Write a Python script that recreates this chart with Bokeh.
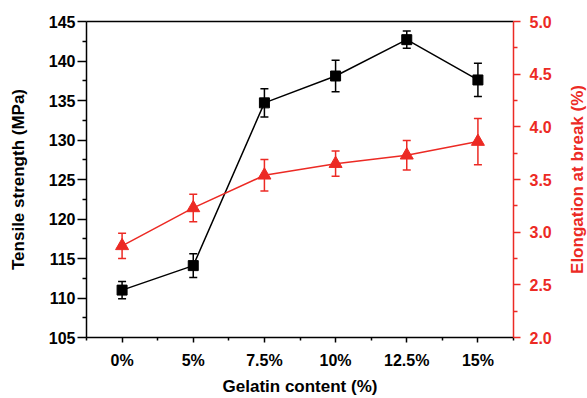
import math
from bokeh.plotting import figure
from bokeh.layouts import row
from bokeh.models import (ColumnDataSource, Range1d, LinearAxis, FixedTicker,
                          Whisker, TeeHead, PrintfTickFormatter)
from bokeh.core.properties import value
from bokeh.embed import file_html
from bokeh.resources import INLINE

categories = ["0%", "5%", "7.5%", "10%", "12.5%", "15%"]
tensile = [111.0, 114.1, 134.7, 138.1, 142.7, 137.6]
tensile_err = [1.1, 1.5, 1.8, 2.0, 1.1, 2.1]
elong = [2.87, 3.23, 3.54, 3.65, 3.73, 3.86]
elong_err = [0.12, 0.13, 0.15, 0.12, 0.14, 0.22]
left_ticks = [105, 110, 115, 120, 125, 130, 135, 140, 145]
right_ticks = [2.0, 2.5, 3.0, 3.5, 4.0, 4.5, 5.0]

RED = "#ec2a24"
FONT = "Liberation Sans"

xs = list(range(len(categories)))
src = ColumnDataSource(dict(
    x=xs, ts=tensile,
    ts_lo=[v - e for v, e in zip(tensile, tensile_err)],
    ts_hi=[v + e for v, e in zip(tensile, tensile_err)],
    el=elong,
    el_lo=[v - e for v, e in zip(elong, elong_err)],
    el_hi=[v + e for v, e in zip(elong, elong_err)],
))

x_end = len(categories) - 0.5
el_range = Range1d(right_ticks[0], right_ticks[-1])
p = figure(width=557, height=398, output_backend="svg", toolbar_location=None,
           x_range=Range1d(-0.5, x_end),
           y_range=Range1d(105, 145),
           min_border_left=86, min_border_right=44, min_border_top=21,
           min_border_bottom=60)
p.outline_line_color = None
p.xgrid.visible = False
p.ygrid.visible = False
p.background_fill_color = "white"
p.border_fill_color = "white"

p.extra_y_ranges = {"el": el_range}

# x axis
xa = p.xaxis[0]
xa.ticker = FixedTicker(ticks=xs, minor_ticks=[i + 0.5 for i in range(-1, len(categories))])
xa.major_label_overrides = {i: c for i, c in enumerate(categories)}
xa.axis_label = "Gelatin content (%)"

# left axis
ya = p.yaxis[0]
ya.ticker = FixedTicker(ticks=left_ticks,
                        minor_ticks=[t + 2.5 for t in left_ticks[:-1]])
ya.axis_label = "Tensile strength (MPa)"

# right axis
ra = LinearAxis(y_range_name="el",
                ticker=FixedTicker(ticks=right_ticks,
                                   minor_ticks=[t + 0.25 for t in right_ticks[:-1]]),
                formatter=PrintfTickFormatter(format="%.1f"))
p.add_layout(ra, "right")

# top border
ta = LinearAxis(ticker=FixedTicker(ticks=[]), major_label_text_font_size="0px",
                major_tick_line_color=None, minor_tick_line_color=None)
ta.axis_line_color = "black"
ta.axis_line_width = 1.5
p.add_layout(ta, "above")

for ax, col in [(xa, "black"), (ya, "black"), (ra, RED)]:
    ax.axis_line_color = col
    ax.axis_line_width = 1.5
    ax.major_tick_line_color = col
    ax.minor_tick_line_color = col
    ax.major_tick_line_width = 1.5
    ax.minor_tick_line_width = 1.5
    ax.major_label_text_color = col
    ax.axis_label_text_color = col
    ax.major_label_text_font = FONT
    ax.axis_label_text_font = FONT
    ax.major_label_text_font_style = "bold"
    ax.axis_label_text_font_style = "bold"
    ax.major_label_text_font_size = "16px"
    ax.axis_label_text_font_size = "17px"

xa.major_tick_out = 5
xa.major_tick_in = 0
xa.minor_tick_out = 3
xa.minor_tick_in = 0
xa.major_label_standoff = 9
xa.axis_label_standoff = 5

ya.major_tick_out = 9
ya.major_tick_in = 0
ya.minor_tick_out = 4
ya.minor_tick_in = 0
ya.major_label_standoff = 2
ya.axis_label_standoff = 18

ra.major_tick_out = 7
ra.major_tick_in = 0
ra.minor_tick_out = 4
ra.minor_tick_in = 0
ra.major_label_standoff = 9

# tensile series
p.line("x", "ts", source=src, line_color="black", line_width=1.5)
w1 = Whisker(base="x", lower="ts_lo", upper="ts_hi", source=src,
             line_color="black", line_width=1.5,
             upper_head=TeeHead(size=8, line_color="black", line_width=1.5),
             lower_head=TeeHead(size=8, line_color="black", line_width=1.5))
p.add_layout(w1)
p.scatter("x", "ts", source=src, marker="square", size=10,
          fill_color="black", line_color="black")

# elongation series
p.line("x", "el", source=src, line_color=RED, line_width=1.5, y_range_name="el")
w2 = Whisker(base="x", lower="el_lo", upper="el_hi", source=src,
             line_color=RED, line_width=1.5, y_range_name="el",
             upper_head=TeeHead(size=8, line_color=RED, line_width=1.5),
             lower_head=TeeHead(size=8, line_color=RED, line_width=1.5))
p.add_layout(w2)
p.scatter("x", "el", source=src, marker="triangle", size=13,
          fill_color=RED, line_color=RED, y_range_name="el")

# right axis title panel (reads bottom-to-top)
p2 = figure(width=30, height=398, output_backend="svg", toolbar_location=None,
            x_range=Range1d(0, 1), y_range=el_range,
            min_border_left=0, min_border_right=0, min_border_top=21,
            min_border_bottom=60)
p2.axis.visible = False
p2.grid.visible = False
p2.outline_line_color = None
p2.border_fill_color = "white"
p2.background_fill_color = "white"
p2.text(x=[0.67], y=[(right_ticks[0] + right_ticks[-1]) / 2],
        text=["Elongation at break (%)"], angle=math.pi / 2,
        text_align="center", text_baseline="middle", text_color=RED,
        text_font=value(FONT), text_font_style="bold", text_font_size="17px")

layout = row(p, p2, spacing=0)
open("out.html", "w").write(file_html(layout, INLINE))
